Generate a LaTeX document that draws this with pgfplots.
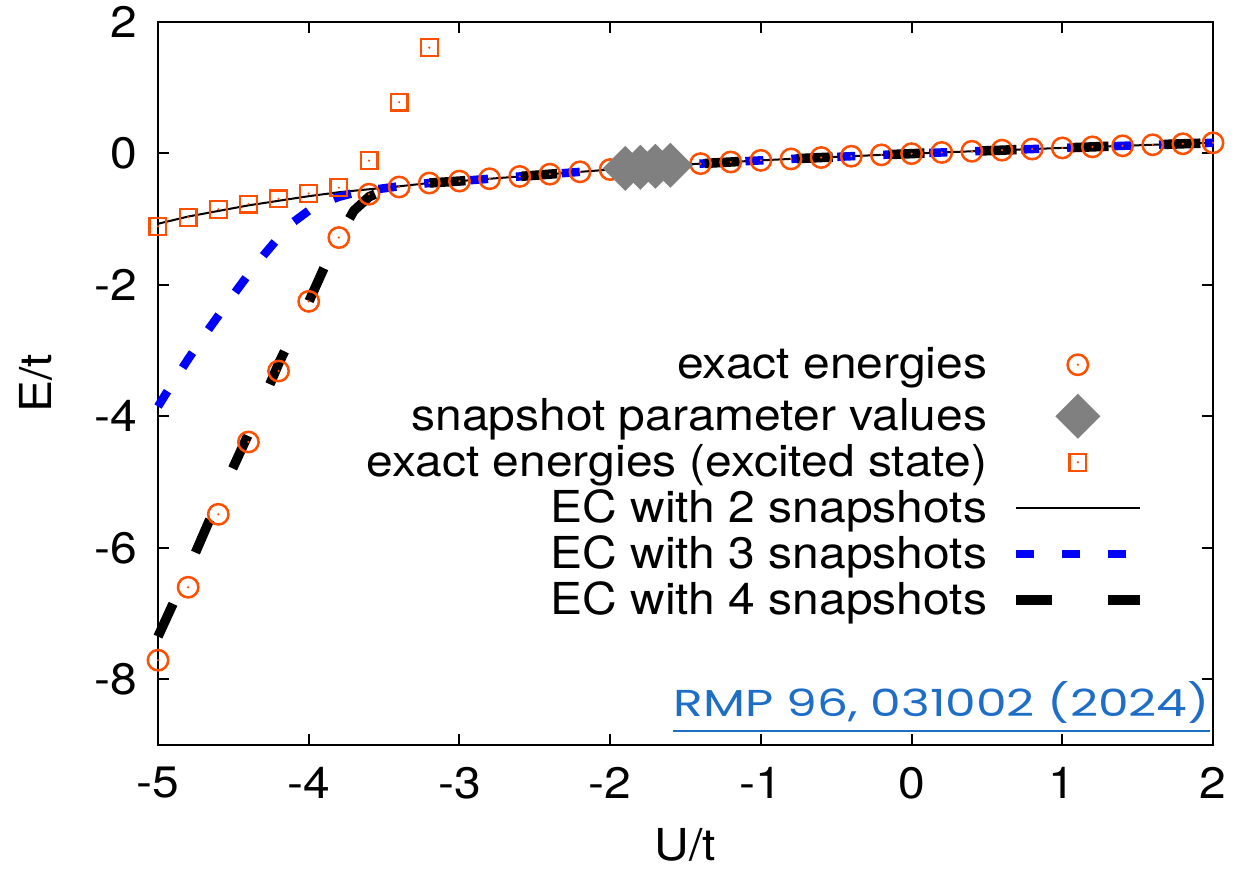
\documentclass[border=0pt]{standalone}
\usepackage{fontspec}
\setmainfont{TeX Gyre Heros}[FakeStretch=1.09]
\newfontfamily\rmpfont{Poppins}
\usepackage{graphicx}
\usepackage{pgfplots}
\usepackage{pgfplotstable}
\pgfplotsset{compat=1.18}
\definecolor{exorange}{RGB}{255,80,0}
\definecolor{snapgray}{RGB}{128,128,128}
\definecolor{rmpblue}{RGB}{30,110,200}

% gnuplot-like marks: open circle / square with a dot in the middle
\pgfdeclareplotmark{dotcircle}{%
  \pgfpathcircle{\pgfpointorigin}{\pgfplotmarksize}%
  \pgfusepathqstroke
  \pgfpathcircle{\pgfpointorigin}{0.6pt}%
  \pgfusepathqfill}
\pgfdeclareplotmark{dotsquare}{%
  \pgfpathrectangle{\pgfqpoint{-\pgfplotmarksize}{-\pgfplotmarksize}}{\pgfqpoint{2\pgfplotmarksize}{2\pgfplotmarksize}}%
  \pgfusepathqstroke
  \pgfpathcircle{\pgfpointorigin}{0.6pt}%
  \pgfusepathqfill}
\pgfdeclareplotmark{sqdiamond}{%
  \pgfpathmoveto{\pgfqpoint{0pt}{\pgfplotmarksize}}%
  \pgfpathlineto{\pgfqpoint{\pgfplotmarksize}{0pt}}%
  \pgfpathlineto{\pgfqpoint{0pt}{-\pgfplotmarksize}}%
  \pgfpathlineto{\pgfqpoint{-\pgfplotmarksize}{0pt}}%
  \pgfpathclose
  \pgfusepathqfill}

% exact ground-state energies
\pgfplotstableread{
x y
-5.0 -7.71
-4.8 -6.60
-4.6 -5.49
-4.4 -4.39
-4.2 -3.31
-4.0 -2.25
-3.8 -1.28
-3.6 -0.62
-3.4 -0.51
-3.2 -0.45
-3.0 -0.42
-2.8 -0.385
-2.6 -0.35
-2.4 -0.315
-2.2 -0.28
-2.0 -0.245
-1.8 -0.21
-1.6 -0.18
-1.4 -0.155
-1.2 -0.13
-1.0 -0.105
-0.8 -0.083
-0.6 -0.062
-0.4 -0.042
-0.2 -0.022
0.0 -0.003
0.2 0.015
0.4 0.033
0.6 0.05
0.8 0.067
1.0 0.084
1.2 0.10
1.4 0.116
1.6 0.132
1.8 0.147
2.0 0.162
}\ground

% snapshot parameter values
\pgfplotstableread{
x y
-1.9 -0.228
-1.8 -0.21
-1.7 -0.195
-1.6 -0.18
}\snap

% exact energies, excited state
\pgfplotstableread{
x y
-5.0 -1.11
-4.8 -0.97
-4.6 -0.85
-4.4 -0.77
-4.2 -0.69
-4.0 -0.61
-3.8 -0.52
-3.6 -0.11
-3.4 0.78
-3.2 1.61
}\excited

% EC with 2 snapshots
\pgfplotstableread{
x y
-5.0 -1.07
-4.8 -0.96
-4.6 -0.875
-4.4 -0.79
-4.2 -0.72
-4.0 -0.65
-3.8 -0.59
-3.6 -0.545
-3.4 -0.50
-3.2 -0.45
-3.0 -0.42
-2.8 -0.385
-2.6 -0.35
-2.4 -0.315
-2.2 -0.28
-2.0 -0.245
-1.8 -0.21
-1.6 -0.18
-1.4 -0.155
-1.2 -0.13
-1.0 -0.105
-0.8 -0.083
-0.6 -0.062
-0.4 -0.042
-0.2 -0.022
0.0 -0.003
0.2 0.015
0.4 0.033
0.6 0.05
0.8 0.067
1.0 0.084
1.2 0.10
1.4 0.116
1.6 0.132
1.8 0.147
2.0 0.162
}\ectwo

% EC with 3 snapshots
\pgfplotstableread{
x y
-5.0 -3.85
-4.9 -3.48
-4.8 -3.13
-4.7 -2.79
-4.6 -2.47
-4.5 -2.15
-4.4 -1.84
-4.3 -1.55
-4.2 -1.28
-4.1 -1.04
-4.0 -0.87
-3.9 -0.75
-3.8 -0.66
-3.7 -0.60
-3.6 -0.56
-3.4 -0.50
-3.2 -0.45
-3.0 -0.42
-2.8 -0.385
-2.6 -0.35
-2.4 -0.315
-2.2 -0.28
-2.0 -0.245
-1.8 -0.21
-1.6 -0.18
-1.4 -0.155
-1.2 -0.13
-1.0 -0.105
-0.8 -0.083
-0.6 -0.062
-0.4 -0.042
-0.2 -0.022
0.0 -0.003
0.2 0.015
0.4 0.033
0.6 0.05
0.8 0.067
1.0 0.084
1.2 0.10
1.4 0.116
1.6 0.132
1.8 0.147
2.0 0.162
}\ecthree

% EC with 4 snapshots
\pgfplotstableread{
x y
-5.0 -7.35
-4.9 -6.85
-4.8 -6.33
-4.7 -5.80
-4.6 -5.27
-4.5 -4.77
-4.4 -4.27
-4.3 -3.74
-4.2 -3.20
-4.1 -2.72
-4.0 -2.26
-3.9 -1.75
-3.8 -1.27
-3.7 -0.87
-3.6 -0.66
-3.5 -0.56
-3.4 -0.50
-3.2 -0.45
-3.0 -0.42
-2.8 -0.385
-2.6 -0.35
-2.4 -0.315
-2.2 -0.28
-2.0 -0.245
-1.8 -0.21
-1.6 -0.18
-1.4 -0.155
-1.2 -0.13
-1.0 -0.105
-0.8 -0.083
-0.6 -0.062
-0.4 -0.042
-0.2 -0.022
0.0 -0.003
0.2 0.015
0.4 0.033
0.6 0.05
0.8 0.067
1.0 0.084
1.2 0.10
1.4 0.116
1.6 0.132
1.8 0.147
2.0 0.162
}\ecfour

\begin{document}
\fontsize{22}{26}\selectfont
\begin{tikzpicture}
\begin{axis}[
  name=ax,
  scale only axis, width=527.5pt, height=361.5pt,
  xmin=-5, xmax=2, ymin=-9, ymax=2,
  xtick={-5,-4,...,2}, xticklabels={-5,-4,-3,-2,-1,0,1,2},
  ytick={-8,-6,...,2}, yticklabels={-8,-6,-4,-2,0,2},
  tick align=inside, major tick length=5.5pt,
  every tick/.style={black, line width=1pt},
  axis line style={line width=1pt},
  xticklabel style={inner sep=0pt, anchor=north, yshift=-11pt},
  yticklabel style={inner sep=0pt, anchor=east, xshift=-10pt},
  clip=false,
  legend plot pos=right,
  legend cell align=right,
  legend style={draw=none, fill=none, inner sep=0pt,
    at={(0.9355,0.550)}, anchor=north east, row sep=0pt,
    nodes={inner sep=0pt, text height=15.6pt, text depth=7.4pt},
    /tikz/every odd column/.append style={column sep=12pt}},
  legend image code/.code={\draw[mark repeat=2,mark phase=2,#1] plot coordinates {(0pt,3pt)(31pt,3pt)(62pt,3pt)};},
]
\addplot[only marks, color=exorange, mark=dotcircle, mark size=5.1pt, mark options={line width=1.25pt}] table {\ground};
\addplot[only marks, color=snapgray, mark=sqdiamond, mark size=11.25pt] table {\snap};
\addplot[only marks, color=exorange, mark=dotsquare, mark size=4.2pt, mark options={line width=1.1pt}] table {\excited};
\addplot[black, line width=1pt] table {\ectwo};
\addplot[blue, line width=4.25pt, dash pattern=on 9pt off 14pt] table {\ecthree};
\addplot[black, line width=4.75pt, dash pattern=on 18pt off 28pt] table {\ecfour};
\legend{exact energies, snapshot parameter values, exact energies (excited state), EC with 2 snapshots, EC with 3 snapshots, EC with 4 snapshots}
\end{axis}
\node[rotate=90, anchor=center] at ([xshift=-61pt]ax.west) {E/t};
\node[anchor=base] at ([yshift=-58pt]ax.south) {U/t};
\node[anchor=base east, inner sep=0pt, text=rmpblue] (rmp) at ([xshift=-1.5pt,yshift=14pt]ax.south east) {\resizebox{268pt}{17.5pt}{\rmpfont RMP 96, 031002 (2024)}};
\draw[rmpblue, line width=1pt] ([yshift=-7pt]rmp.base west) -- ([yshift=-7pt]rmp.base east);
\pgfresetboundingbox
\useasboundingbox ([xshift=-79pt,yshift=-62.5pt]ax.south west) rectangle ([xshift=11.5pt,yshift=11pt]ax.north east);
\end{tikzpicture}
\end{document}
